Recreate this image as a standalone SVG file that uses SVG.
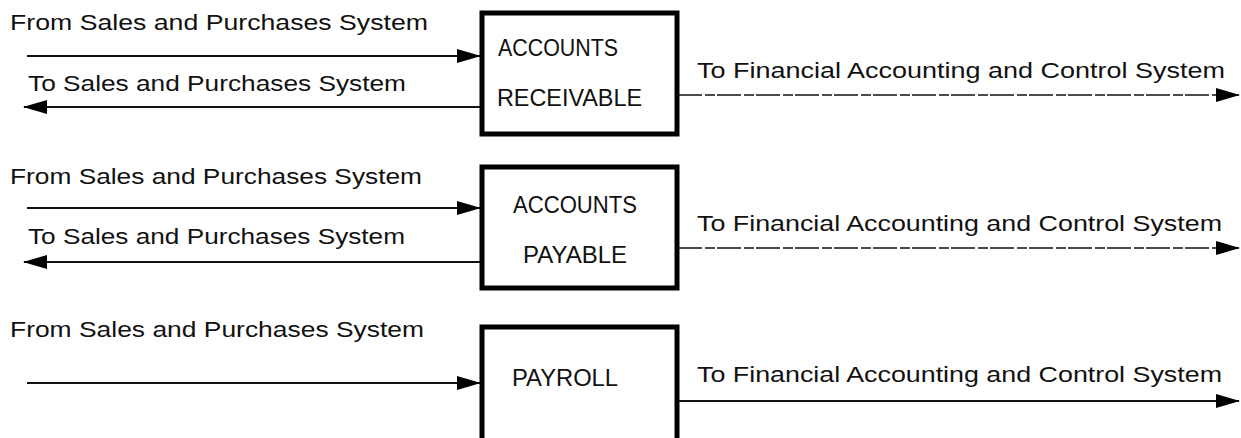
<svg xmlns="http://www.w3.org/2000/svg" width="1241" height="438" viewBox="0 0 1241 438">
  <defs>
    <style>
      .lbl { font-family: "Liberation Sans", Arial, sans-serif; font-size: 22px; fill: #111; }
      .big { font-size: 24px; }
      .box { fill: #fff; stroke: #000; stroke-width: 5; }
      .flow { stroke: #111; stroke-width: 2; fill: none; }
      .flow.broken { stroke-width: 1.6; stroke-dasharray: 24 3 10 2; }
    </style>
    <marker id="arrow" viewBox="0 0 24 14" refX="23" refY="7" markerWidth="24" markerHeight="14" markerUnits="userSpaceOnUse" orient="auto">
      <path d="M0,0 L24,7 L0,14 Z" fill="#000"/>
    </marker>
  </defs>
  <rect width="1241" height="438" fill="#fff"/>

  <!-- connectors -->
  <g id="connectors">
    <line class="flow" x1="27" y1="56" x2="480" y2="56" marker-end="url(#arrow)"/>
    <line class="flow" x1="480" y1="107" x2="24" y2="107" marker-end="url(#arrow)"/>
    <line class="flow broken" x1="678" y1="95" x2="1239" y2="95" marker-end="url(#arrow)"/>

    <line class="flow" x1="27" y1="208" x2="480" y2="208" marker-end="url(#arrow)"/>
    <line class="flow" x1="480" y1="262" x2="24" y2="262" marker-end="url(#arrow)"/>
    <line class="flow broken" x1="678" y1="248" x2="1239" y2="248" marker-end="url(#arrow)"/>

    <line class="flow" x1="27" y1="383" x2="480" y2="383" marker-end="url(#arrow)"/>
    <line class="flow" x1="678" y1="401" x2="1239" y2="401" marker-end="url(#arrow)"/>

    <text class="lbl" x="10" y="30" textLength="418" lengthAdjust="spacingAndGlyphs">From Sales and Purchases System</text>
    <text class="lbl" x="28" y="91" textLength="378" lengthAdjust="spacingAndGlyphs">To Sales and Purchases System</text>
    <text class="lbl" x="697" y="78" textLength="528" lengthAdjust="spacingAndGlyphs">To Financial Accounting and Control System</text>

    <text class="lbl" x="10" y="184" textLength="412" lengthAdjust="spacingAndGlyphs">From Sales and Purchases System</text>
    <text class="lbl" x="28" y="244" textLength="377" lengthAdjust="spacingAndGlyphs">To Sales and Purchases System</text>
    <text class="lbl" x="697" y="231" textLength="525" lengthAdjust="spacingAndGlyphs">To Financial Accounting and Control System</text>

    <text class="lbl" x="10" y="337" textLength="414" lengthAdjust="spacingAndGlyphs">From Sales and Purchases System</text>
    <text class="lbl" x="697" y="382" textLength="525" lengthAdjust="spacingAndGlyphs">To Financial Accounting and Control System</text>
  </g>

  <!-- nodes -->
  <g id="accounts-receivable">
    <rect class="box" x="482" y="13" width="195" height="121"/>
    <text class="lbl big" x="498" y="56" textLength="120" lengthAdjust="spacingAndGlyphs">ACCOUNTS</text>
    <text class="lbl big" x="497" y="106" textLength="145" lengthAdjust="spacingAndGlyphs">RECEIVABLE</text>
  </g>

  <g id="accounts-payable">
    <rect class="box" x="482" y="167" width="195" height="121"/>
    <text class="lbl big" x="513" y="213" textLength="124" lengthAdjust="spacingAndGlyphs">ACCOUNTS</text>
    <text class="lbl big" x="523" y="263" textLength="104" lengthAdjust="spacingAndGlyphs">PAYABLE</text>
  </g>

  <g id="payroll">
    <rect class="box" x="482" y="327" width="195" height="120"/>
    <text class="lbl big" x="512" y="386" textLength="106" lengthAdjust="spacingAndGlyphs">PAYROLL</text>
  </g>
</svg>
